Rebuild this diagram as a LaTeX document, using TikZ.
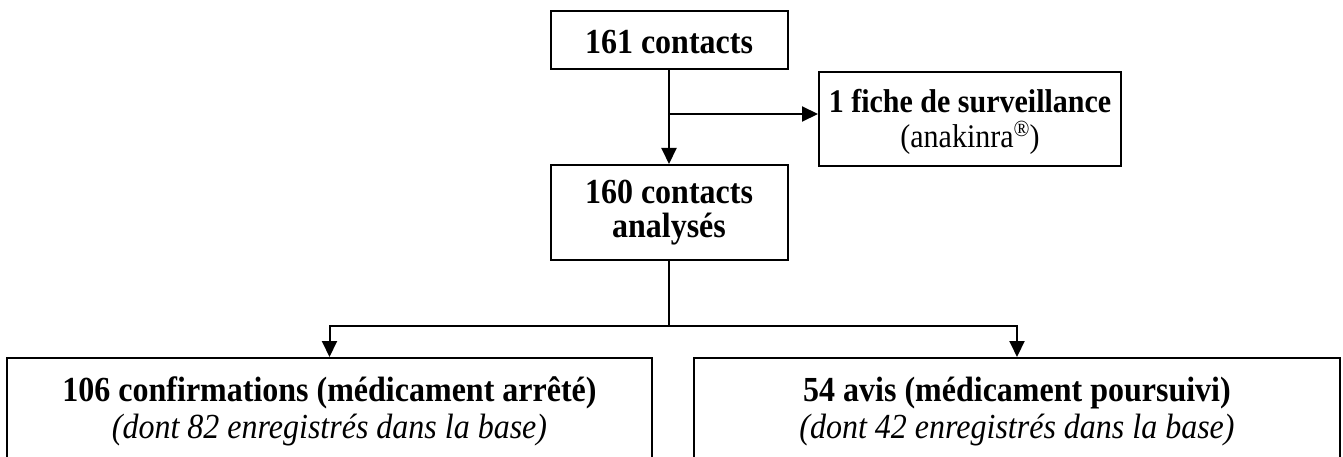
\documentclass[tikz,border=0pt]{standalone}
\usepackage{fontspec}
\usepackage{graphicx}
\setmainfont{Liberation Serif}
\usetikzlibrary{arrows.meta}
\newcommand{\vstr}[1]{\scalebox{1}[1.1]{#1}}
\newcommand{\regmark}{\raisebox{10pt}{\fontsize{21}{21}\selectfont\textregistered}}
\begin{document}
\begin{tikzpicture}[x=1pt,y=-1pt,
  box/.style={draw, line width=2pt, inner sep=0pt, align=center},
  arr/.style={line width=2pt, -{Triangle[length=16pt,width=15pt]}},
  ln/.style={line width=2pt}]
\useasboundingbox (0,0) rectangle (1343,457);
\clip (0,0) rectangle (1343,457);
\node[box, minimum width=237pt, minimum height=58pt, font=\fontsize{32}{34}\selectfont] (A) at (669,40)
  {\rule{0pt}{27pt}\vstr{\textbf{161 contacts}}};
\node[box, minimum width=302pt, minimum height=94pt, font=\fontsize{30}{35}\selectfont] (B) at (970,119)
  {\rule{0pt}{30pt}\vstr{\textbf{1 fiche de surveillance}}\\\vstr{(anakinra\regmark)}};
\node[box, minimum width=237pt, minimum height=95pt, font=\fontsize{32}{34}\selectfont] (C) at (669,212.5)
  {\vstr{\textbf{160 contacts}}\\\vstr{\textbf{analysés}}};
\node[box, minimum width=645pt, minimum height=107pt, font=\fontsize{32}{37}\selectfont] (D) at (329.5,411.5)
  {\vstr{\textbf{106 confirmations (médicament arrêté)}}\\\vstr{\textit{(dont 82 enregistrés dans la base)}}};
\node[box, minimum width=646pt, minimum height=107pt, font=\fontsize{32}{37}\selectfont] (E) at (1017,411.5)
  {\vstr{\textbf{54 avis (médicament poursuivi)}}\\\vstr{\textit{(dont 42 enregistrés dans la base)}}};
\draw[arr] (A.south) -- (C.north);
\coordinate (j1) at (669,114);
\draw[arr] (j1) -- (j1 -| B.west);
\coordinate (j2) at (669,326);
\draw[ln] (C.south) -- (j2);
\draw[arr] (j2) -| (D.north);
\draw[arr] (j2) -| (E.north);
\end{tikzpicture}
\end{document}
